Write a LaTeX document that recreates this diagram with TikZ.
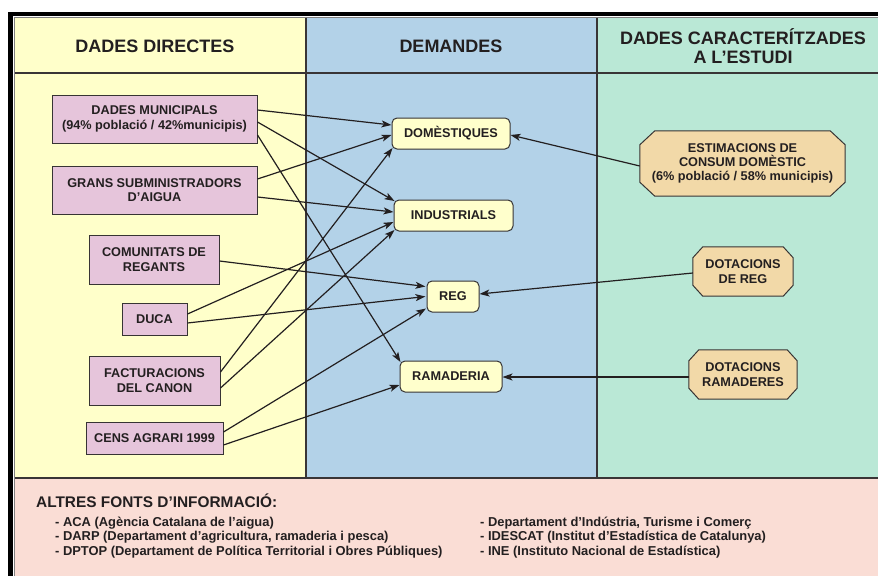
\documentclass[tikz,border=0pt]{standalone}
\usepackage{fontspec}
\setmainfont{Liberation Sans}
\usetikzlibrary{arrows.meta}
\pgfdeclarelayer{bg}
\pgfdeclarelayer{mid}
\pgfsetlayers{bg,mid,main}
\definecolor{colyellow}{RGB}{255,255,202}
\definecolor{colblue}{RGB}{179,210,232}
\definecolor{colgreen}{RGB}{186,232,214}
\definecolor{colpink}{RGB}{250,221,213}
\definecolor{boxpink}{RGB}{230,197,219}
\definecolor{boxyellow}{RGB}{255,255,204}
\definecolor{octfill}{RGB}{242,217,168}
\definecolor{ink}{RGB}{35,31,32}
\definecolor{edge}{RGB}{55,52,52}
\tikzset{
  hdr/.style={font=\fontsize{18}{18.5}\selectfont\bfseries, align=center, text=ink},
  srcbox/.style={draw=edge, line width=1pt, fill=boxpink, align=center, inner sep=0pt,
    font=\fontsize{12.7}{14.3}\selectfont\bfseries, text=ink},
  dembox/.style={draw=edge, line width=1pt, fill=boxyellow, rounded corners=5pt, align=center, inner sep=0pt,
    font=\fontsize{12.7}{14.3}\selectfont\bfseries, text=ink},
  octnode/.style={align=center, inner sep=0pt,
    font=\fontsize{12.7}{14.3}\selectfont\bfseries, text=ink},
  octshape/.style={draw=edge, line width=1pt, fill=octfill},
  arr/.style={draw=ink, line width=1.2pt, -{Stealth[length=10pt,width=7pt,inset=2.5pt]}},
  divider/.style={draw=ink!90, line width=2pt},
  listtxt/.style={anchor=west, align=left, inner sep=0pt, font=\fontsize{12.9}{14.3}\selectfont\bfseries, text=ink},
}
\newcommand\octoback[3]{%
  \begin{pgfonlayer}{mid}
  \path[octshape] ([xshift=#2]#1.north west) -- ([xshift=-#2]#1.north east)
    -- ([yshift=-#3]#1.north east) -- ([yshift=#3]#1.south east)
    -- ([xshift=-#2]#1.south east) -- ([xshift=#2]#1.south west)
    -- ([yshift=#3]#1.south west) -- ([yshift=-#3]#1.north west) -- cycle;
  \end{pgfonlayer}}
\begin{document}
\begin{tikzpicture}[x=1pt,y=-1pt]
\useasboundingbox (0,0) rectangle (878,576);
% backgrounds
\begin{pgfonlayer}{bg}
\fill[white] (0,0) rectangle (878,576);
\fill[colyellow] (14,17) rectangle (306,478);
\fill[colblue] (306,17) rectangle (597,478);
\fill[colgreen] (597,17) rectangle (878,478);
\fill[colpink] (14,478) rectangle (878,576);
\fill[black] (8,12) rectangle (878,16);
\fill[black] (8,12) rectangle (13.3,576);
\draw[gray, line width=0.8pt] (14.6,576) -- (14.6,17.2) -- (878,17.2);
\draw[divider] (15,73) -- (878,73);
\draw[divider] (306,17.5) -- (306,478);
\draw[divider] (597,17.5) -- (597,478);
\draw[divider] (15,478) -- (878,478);
\end{pgfonlayer}
% headers
\node[hdr] (h1) at (155,46) {DADES DIRECTES};
\node[hdr] (h2) at (451,46) {DEMANDES};
\node[hdr] (h3) at (743,46) {DADES CARACTERÍTZADES\\A L’ESTUDI};
% source boxes
\node[srcbox, minimum width=205pt, minimum height=48pt] (mun) at (154.5,119) {DADES MUNICIPALS\\(94\% població / 42\%municipis)};
\node[srcbox, minimum width=205pt, minimum height=48pt] (gra) at (154.5,190) {GRANS SUBMINISTRADORS\\D’AIGUA};
\node[srcbox, minimum width=130pt, minimum height=49pt] (com) at (154,259.5) {COMUNITATS DE\\REGANTS};
\node[srcbox, minimum width=65pt, minimum height=32pt] (duca) at (154.5,319) {DUCA};
\node[srcbox, minimum width=131pt, minimum height=49pt] (fac) at (154.5,380.5) {FACTURACIONS\\DEL CANON};
\node[srcbox, minimum width=137pt, minimum height=32pt] (cen) at (154.5,438) {CENS AGRARI 1999};
% demand boxes
\node[dembox, minimum width=118pt, minimum height=31pt] (dom) at (451,133.5) {DOMÈSTIQUES};
\node[dembox, minimum width=119pt, minimum height=31pt] (ind) at (453.5,215.5) {INDUSTRIALS};
\node[dembox, minimum width=52pt, minimum height=31pt] (reg) at (453,296.5) {REG};
\node[dembox, minimum width=102pt, minimum height=31pt] (ram) at (451,376.5) {RAMADERIA};
% octagons
\node[octnode, minimum width=205pt, minimum height=65pt] (est) at (742.5,163.5) {ESTIMACIONS DE\\CONSUM DOMÈSTIC\\(6\% població / 58\% municipis)};
\octoback{est}{15pt}{14pt}
\node[octnode, minimum width=100pt, minimum height=49pt] (dreg) at (743,271.5) {DOTACIONS\\DE REG};
\octoback{dreg}{10pt}{11pt}
\node[octnode, minimum width=108pt, minimum height=49pt] (dram) at (743,374.5) {DOTACIONS\\RAMADERES};
\octoback{dram}{10pt}{11pt}
% connectors
\draw[arr] ([yshift=9pt]mun.east) -- ([yshift=8.5pt]dom.west);
\draw[arr] ([yshift=-3pt]mun.east) -- ([xshift=1pt,yshift=-1.5pt]ind.north west);
\draw[arr] ([yshift=-16pt]mun.east) -- ([xshift=1pt,yshift=-1.5pt]ram.north west);
\draw[arr] ([yshift=11pt]gra.east) -- ([yshift=-1.5pt]dom.west);
\draw[arr] ([yshift=-7pt]gra.east) -- ([yshift=3.5pt]ind.west);
\draw[arr] ([yshift=-1.5pt]com.east) -- ([xshift=-1pt,yshift=10pt]reg.west);
\draw[arr] ([yshift=5pt]duca.east) -- ([yshift=-6.5pt]ind.west);
\draw[arr] ([yshift=-4pt]duca.east) -- ([xshift=-1pt]reg.west);
\draw[arr] ([yshift=8.5pt]fac.east) -- ([xshift=1pt,yshift=1.5pt]dom.south west);
\draw[arr] ([yshift=-7.5pt]fac.east) -- ([xshift=1pt,yshift=1.5pt]ind.south west);
\draw[arr] ([yshift=6pt]cen.east) -- ([xshift=-0.5pt,yshift=4pt]reg.south west);
\draw[arr] ([yshift=-7pt]cen.east) -- ([yshift=-8.5pt]ram.west);
\draw[arr] ([yshift=-2.5pt]est.west) -- ([yshift=-1.5pt]dom.east);
\draw[arr] ([yshift=-1.5pt]dreg.west) -- ([yshift=2.5pt]reg.east);
\draw[arr] ([yshift=-2.5pt]dram.west) -- ([yshift=-0.5pt]ram.east);
% bottom
\node[anchor=west, inner sep=0pt, font=\fontsize{15.4}{17}\selectfont\bfseries, text=ink] (alt) at (36,501) {ALTRES FONTS D’INFORMACIÓ:};
\node[listtxt] (l1) at (55,537.5) {- ACA (Agència Catalana de l’aigua)\\- DARP (Departament d’agricultura, ramaderia i pesca)\\- DPTOP (Departament de Política Territorial i Obres Públiques)};
\node[listtxt] (l2) at (480,537.5) {- Departament d’Indústria, Turisme i Comerç\\- IDESCAT (Institut d’Estadística de Catalunya)\\- INE (Instituto Nacional de Estadística)};
\end{tikzpicture}
\end{document}
